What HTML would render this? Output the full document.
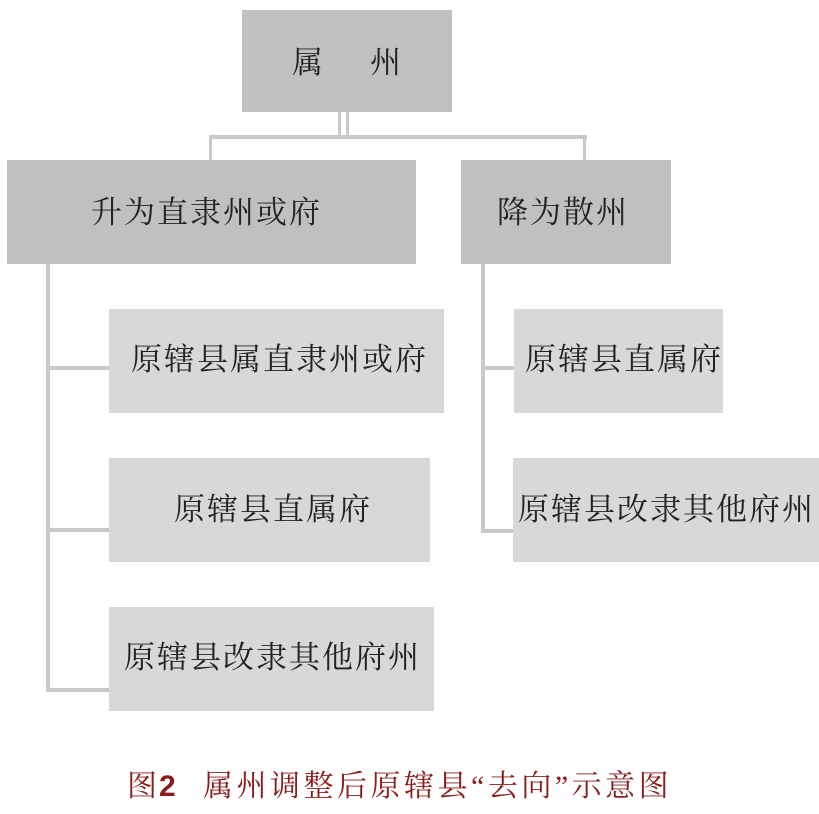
<!DOCTYPE html>
<html><head><meta charset="utf-8"><style>
body{margin:0;width:819px;height:814px;background:#fff;position:relative;overflow:hidden;font-family:"Liberation Serif","Noto Serif CJK SC",serif;}
.b{position:absolute;}
.t{position:absolute;font-size:31px;line-height:32px;color:#222;white-space:nowrap;letter-spacing:2px;}
.l{position:absolute;background:#c9c9c9;}
.g1{background:#c0c0c0}.g2{background:#d8d8d8}
</style></head><body>
<div class="b g1" style="left:242px;top:10px;width:210px;height:102px"></div>
<div class="b g1" style="left:7px;top:160px;width:409px;height:104px"></div>
<div class="b g1" style="left:461px;top:160px;width:210px;height:104px"></div>
<div class="b g2" style="left:109px;top:309px;width:335px;height:104px"></div>
<div class="b g2" style="left:109px;top:458px;width:321px;height:104px"></div>
<div class="b g2" style="left:109px;top:607px;width:325px;height:104px"></div>
<div class="b g2" style="left:514px;top:309px;width:209px;height:104px"></div>
<div class="b g2" style="left:513px;top:458px;width:306px;height:104px"></div>

<div class="l" style="left:338px;top:112px;width:3px;height:26px"></div>
<div class="l" style="left:346px;top:112px;width:3px;height:26px"></div>
<div class="l" style="left:209px;top:135px;width:378px;height:4px"></div>
<div class="l" style="left:209px;top:135px;width:3px;height:25px"></div>
<div class="l" style="left:583px;top:135px;width:3px;height:25px"></div>
<div class="l" style="left:46px;top:264px;width:4px;height:428px"></div>
<div class="l" style="left:46px;top:366px;width:63px;height:4px"></div>
<div class="l" style="left:46px;top:528px;width:63px;height:4px"></div>
<div class="l" style="left:46px;top:688px;width:63px;height:4px"></div>
<div class="l" style="left:481px;top:264px;width:4px;height:269px"></div>
<div class="l" style="left:481px;top:366px;width:33px;height:4px"></div>
<div class="l" style="left:481px;top:529px;width:32px;height:4px"></div>

<div class="t" style="left:292px;top:47px">属</div>
<div class="t" style="left:370px;top:47px">州</div>
<div class="t" style="left:91px;top:197px">升为直隶州或府</div>
<div class="t" style="left:497px;top:197px">降为散州</div>
<div class="t" style="left:131px;top:344px">原辖县属直隶州或府</div>
<div class="t" style="left:174px;top:494px">原辖县直属府</div>
<div class="t" style="left:124px;top:642px">原辖县改隶其他府州</div>
<div class="t" style="left:525px;top:344px">原辖县直属府</div>
<div class="t" style="left:518px;top:494px">原辖县改隶其他府州</div>

<div class="t" style="left:127px;top:771px;color:#8b1c1c;font-size:30px;letter-spacing:2px">图<span style="font-family:'Liberation Sans',sans-serif;font-weight:bold">2</span></div>
<div class="t" style="left:203px;top:771px;color:#8b1c1c;font-size:30px;letter-spacing:3.5px">属州调整后原辖县“去向”示意图</div>
</body></html>
